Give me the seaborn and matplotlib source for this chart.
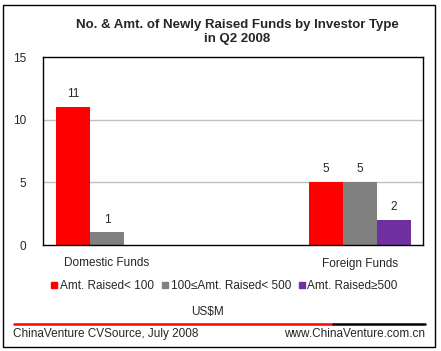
import matplotlib
matplotlib.use("Agg")
import matplotlib.pyplot as plt
import seaborn as sns
import pandas as pd
from matplotlib.lines import Line2D
from matplotlib.patches import Rectangle

categories = ["Domestic Funds", "Foreign Funds"]
series_names = ["Amt. Raised< 100", "100\u2264Amt. Raised< 500", "Amt. Raised\u2265500"]
small_funds = [11, 5]
mid_funds = [1, 5]
large_funds = [0, 2]
colors = ["#FF0000", "#808080", "#7030A0"]
yticks = [0, 5, 10, 15]

sns.set_style("white")
plt.rcParams['font.family'] = ['Liberation Sans', 'DejaVu Sans']

rows = []
for name, vals in zip(series_names, [small_funds, mid_funds, large_funds]):
    for c, v in zip(categories, vals):
        rows.append({"type": c, "series": name, "count": v})
df = pd.DataFrame(rows)

fig = plt.figure(figsize=(4.41, 3.51), dpi=100)
ax = fig.add_axes([43/441, 1-245/351, (423-43)/441, (245-57)/351])

sns.barplot(data=df, x="type", y="count", hue="series", hue_order=series_names,
            palette=colors, width=0.4, saturation=1, gap=0, legend=False, ax=ax,
            edgecolor="none", linewidth=0)

for cont in ax.containers:
    labels = [f"{int(b.get_height())}" if b.get_height() > 0 else "" for b in cont]
    ax.bar_label(cont, labels=labels, padding=5, fontsize=8.5)

ax.set_xlim(-0.253, 1.249)
ax.set_ylim(0, 15)
ax.set_yticks(yticks)
ax.set_yticklabels([str(t) for t in yticks], fontsize=8.5)
ax.tick_params(axis='y', length=0, pad=12)
ax.tick_params(axis='x', length=0, pad=9, labelsize=8.5)
ax.set_xlabel("")
ax.set_ylabel("")
for yv in [5, 10]:
    ax.axhline(yv, color="#C0C0C0", linewidth=1, zorder=0)
for s in ax.spines.values():
    s.set_visible(True)
    s.set_color("black")
    s.set_linewidth(1)

fig.text(237/441, 1-32/351, "No. & Amt. of Newly Raised Funds by Investor Type\nin Q2 2008",
         ha="center", va="center", fontsize=9.5, fontweight="bold", linespacing=1.25)

handles = [Line2D([0], [0], marker='s', linestyle='none', markersize=5,
                  markerfacecolor=c, markeredgecolor=c) for c in colors]
fig.legend(handles, series_names, loc="center", bbox_to_anchor=(223/441, 1-286/351),
           ncol=3, frameon=False, fontsize=8.5, handletextpad=0.0, columnspacing=0.4,
           handlelength=1.0, borderpad=0)

fig.text(207/441, 1-312/351, "US$M", ha="center", va="center", fontsize=8.5)

fig.add_artist(Line2D([14/441, 333/441], [1-324/351, 1-324/351], color="#FF0000", linewidth=1.8))
fig.add_artist(Line2D([333/441, 425/441], [1-324/351, 1-324/351], color="black", linewidth=1.8))
fig.text(13/441, 1-334/351, "ChinaVenture CVSource, July 2008", ha="left", va="center", fontsize=8.5)
fig.text(425/441, 1-334/351, "www.ChinaVenture.com.cn", ha="right", va="center", fontsize=8.5)

fig.add_artist(Rectangle((3/441, 1-347/351), 432/441, 342/351, transform=fig.transFigure,
                         fill=False, edgecolor="black", linewidth=1))

fig.savefig("out.png", dpi=100)
